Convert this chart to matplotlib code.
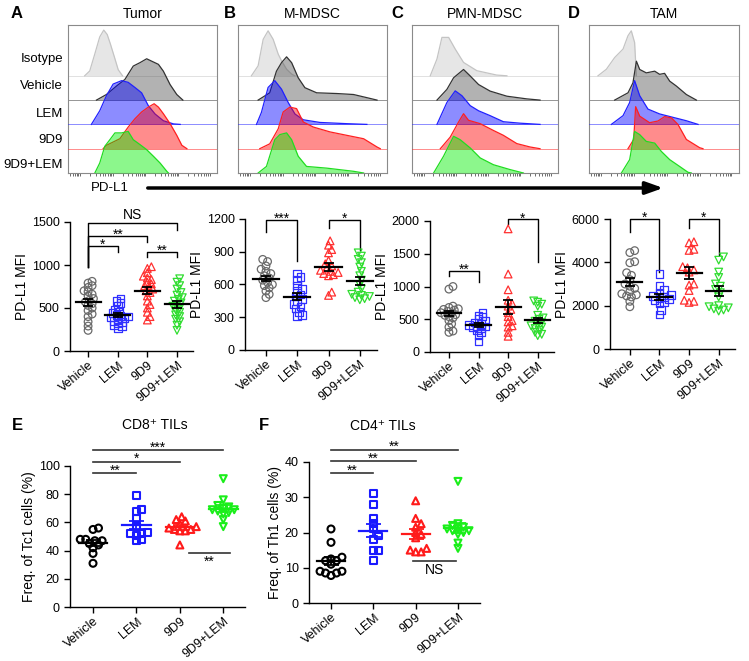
import matplotlib
matplotlib.use('Agg')
import matplotlib.pyplot as plt
import numpy as np
from matplotlib.patches import FancyArrowPatch

plt.rcParams['font.family'] = ['Liberation Sans', 'DejaVu Sans']

# ---------------- data ----------------
groups = ["Vehicle", "LEM", "9D9", "9D9+LEM"]
hist_rows = ["Isotype", "Vehicle", "LEM", "9D9", "9D9+LEM"]

# histogram outlines: x in % of the PD-L1 axis, height in row units
tumor_x = {
    "Isotype": [11.2, 14.6, 18, 21.3, 24, 26.3, 28.5, 31.5, 33.7, 36.6],
    "Vehicle": [19.1, 25.8, 32.6, 38.2, 43.8, 48.3, 52.8, 56.2, 60.7, 64, 68.5, 73, 77.1],
    "LEM": [15.7, 21.3, 25.8, 30.3, 36, 40.4, 44.9, 49.4, 53.9, 58.4, 64, 70.8, 75.3],
    "9D9": [23.6, 25.8, 34.8, 40.4, 44.9, 49.4, 53.9, 57.8, 60.7, 64, 68.5, 73, 76.4, 79.8],
    "9D9+LEM": [18, 21.3, 24.7, 28.1, 31.5, 36, 40.4, 43.8, 48.3, 52.8, 57.3, 61.8, 66.3, 67.4],
}
tumor_h = {
    "Isotype": [0, 0.2, 0.9, 1.6, 1.88, 1.7, 1.3, 0.7, 0.25, 0],
    "Vehicle": [0, 0.23, 0.58, 0.85, 1.4, 1.54, 1.7, 1.6, 1.47, 1.19, 0.64, 0.23, 0],
    "LEM": [0, 0.56, 1.18, 1.66, 1.8, 1.73, 1.52, 1.3, 0.77, 0.43, 0.15, 0.02, 0],
    "9D9": [0, 0.14, 0.41, 0.89, 1.23, 1.51, 1.71, 1.85, 1.71, 1.44, 1.03, 0.55, 0.14, 0],
    "9D9+LEM": [0, 0.41, 1.1, 1.37, 1.65, 1.65, 1.71, 1.37, 1.17, 0.96, 0.69, 0.41, 0.07, 0],
}
mmdsc_x = {
    "Isotype": [9, 13.5, 16.9, 20.2, 23.6, 27, 29.2, 32.6, 36, 38.2],
    "Vehicle": [13.5, 21.3, 25.8, 29.2, 32.6, 36, 40.4, 44.9, 52.8, 66.3, 77.5, 86.5, 93.3],
    "LEM": [12.4, 15.7, 20.2, 24.7, 29.2, 33.7, 38.2, 43.8, 55, 73, 86.5],
    "9D9": [14.6, 21.3, 27, 30.3, 34.8, 39.3, 43.8, 50.6, 61.8, 73, 84.3, 93.3, 95.5],
    "9D9+LEM": [13.5, 19.1, 24.7, 28.1, 32.6, 36, 40.4, 46, 59.6, 77.5, 84.3],
}
mmdsc_h = {
    "Isotype": [0, 0.41, 1.5, 1.85, 1.5, 0.89, 0.62, 0.27, 0.07, 0],
    "Vehicle": [0, 0.3, 1.19, 1.54, 1.78, 1.54, 0.92, 0.51, 0.3, 0.27, 0.23, 0.1, 0],
    "LEM": [0, 0.49, 1.52, 1.8, 1.45, 0.9, 0.43, 0.19, 0.08, 0.03, 0],
    "9D9": [0, 0.2, 0.82, 1.51, 1.71, 1.65, 1.1, 0.89, 0.69, 0.55, 0.41, 0.07, 0],
    "9D9+LEM": [0, 0.27, 1.37, 1.58, 1.65, 1.37, 0.69, 0.27, 0.2, 0.07, 0],
}
pmn_x = {
    "Isotype": [12.5, 17.1, 20.5, 25.1, 29.6, 35.3, 44.4, 58, 65],
    "Vehicle": [17.1, 23.9, 28.5, 35.3, 39.9, 45.6, 53.5, 65, 78.6, 87.7],
    "LEM": [17.1, 23.9, 29.6, 34.2, 39.9, 45.6, 53.5, 62.6, 74, 87.7],
    "9D9": [19.4, 26.2, 31.9, 35.3, 38.7, 46.7, 55.8, 62.6, 71.8, 80.9, 87.7],
    "9D9+LEM": [14.8, 21.6, 28.5, 33, 39.9, 46.7, 55.8, 67.2, 76.3],
}
pmn_h = {
    "Isotype": [0, 0.69, 1.58, 1.58, 1.1, 0.55, 0.21, 0.03, 0],
    "Vehicle": [0, 0.44, 0.92, 1.26, 0.99, 0.64, 0.37, 0.16, 0.05, 0],
    "LEM": [0, 0.9, 1.38, 1.18, 0.77, 0.56, 0.36, 0.11, 0.05, 0],
    "9D9": [0, 0.48, 1.1, 1.44, 1.17, 1.03, 0.75, 0.55, 0.21, 0.07, 0],
    "9D9+LEM": [0, 0.69, 1.51, 1.37, 1.03, 0.62, 0.34, 0.14, 0],
}
tam_x = {
    "Isotype": [6, 11.6, 17.1, 22.7, 26, 28.2, 30.4, 31.6],
    "Vehicle": [17.1, 26, 29.3, 31.6, 33.8, 38.2, 43.8, 47.1, 50.4, 53.8, 58.2, 64.9, 71.6],
    "LEM": [14.9, 22.7, 27.1, 30.4, 33.8, 39.3, 47.1, 56, 64.9, 72.7],
    "9D9": [26, 29.8, 31.1, 33.8, 40.4, 46, 50.4, 54.9, 59.3, 64.9, 73.8, 76],
    "9D9+LEM": [21.6, 27.1, 30.4, 33.8, 38.2, 43.8, 48.2, 53.8, 60.4, 66, 68.2],
}
tam_h = {
    "Isotype": [0, 0.27, 0.75, 1.1, 1.65, 1.85, 1.37, 0],
    "Vehicle": [0, 0.3, 0.71, 1.6, 1.26, 1.12, 1.19, 1.06, 1.1, 0.78, 0.58, 0.23, 0],
    "LEM": [0, 0.36, 0.9, 1.8, 1.18, 0.63, 0.43, 0.29, 0.15, 0],
    "9D9": [0, 0.38, 1.73, 1.34, 1.07, 1.14, 1.32, 1.27, 1.0, 0.38, 0.04, 0],
    "9D9+LEM": [0, 0.55, 1.71, 1.58, 1.3, 1.23, 0.89, 0.55, 0.27, 0.03, 0],
}

# PD-L1 MFI per mouse
mfi_tumor = {
    "Vehicle": [810, 790, 760, 740, 700, 690, 660, 640, 610, 590, 570, 550, 530, 500, 470, 430, 400, 340, 290, 240],
    "LEM": [610, 580, 560, 520, 480, 460, 440, 420, 410, 400, 390, 380, 370, 350, 340, 320, 300, 290, 270],
    "9D9": [980, 960, 910, 870, 850, 830, 800, 780, 760, 740, 720, 700, 680, 640, 580, 540, 500, 450, 400, 360],
    "9D9+LEM": [840, 800, 760, 720, 680, 650, 620, 600, 580, 560, 540, 520, 500, 480, 450, 420, 400, 370, 340, 300, 240],
}
mfi_mmdsc = {
    "Vehicle": [830, 810, 770, 740, 720, 700, 680, 660, 640, 620, 600, 590, 570, 540, 510, 480],
    "LEM": [700, 670, 640, 590, 560, 540, 510, 490, 470, 450, 420, 400, 380, 350, 320, 310],
    "9D9": [1000, 960, 920, 890, 820, 790, 770, 750, 730, 720, 710, 700, 690, 680, 530, 500],
    "9D9+LEM": [890, 860, 830, 800, 760, 720, 680, 640, 600, 560, 530, 510, 500, 490, 480, 470, 460],
}
mfi_pmn = {
    "Vehicle": [1000, 960, 700, 680, 660, 650, 640, 620, 600, 590, 570, 560, 540, 520, 480, 430, 380, 320, 300],
    "LEM": [600, 560, 540, 500, 470, 450, 430, 410, 400, 390, 380, 360, 340, 300, 250, 160],
    "9D9": [1880, 1190, 950, 790, 740, 700, 650, 600, 540, 480, 460, 400, 380, 300, 240],
    "9D9+LEM": [780, 760, 730, 700, 560, 520, 500, 470, 450, 420, 400, 380, 360, 330, 300, 270, 250],
}
mfi_tam = {
    "Vehicle": [4540, 4450, 4030, 3980, 3520, 3400, 3200, 3000, 2900, 2800, 2650, 2550, 2500, 2450, 2400, 2200, 1950],
    "LEM": [3450, 2900, 2750, 2600, 2500, 2450, 2400, 2350, 2300, 2250, 2150, 2100, 1800, 1600],
    "9D9": [4950, 4900, 4600, 4550, 3800, 3750, 3650, 3550, 3000, 2950, 2700, 2250, 2200, 2150],
    "9D9+LEM": [4250, 4100, 3550, 3300, 3000, 2900, 2750, 2600, 2400, 2000, 1950, 1900, 1850, 1800, 1750],
}
tc1 = {
    "Vehicle": [56, 55, 48, 48, 47, 47, 45, 44, 42, 38, 31],
    "LEM": [79, 69, 68, 63, 57, 53, 52, 52, 51, 48, 47],
    "9D9": [64, 62, 61, 59, 57, 56, 55, 55, 54, 54, 44],
    "9D9+LEM": [91, 76, 72, 71, 70, 69, 69, 68, 67, 66, 62, 57],
}
th1 = {
    "Vehicle": [21, 17.2, 13, 12.5, 12, 12, 11, 9, 9, 8.5, 8.5, 7.8],
    "LEM": [31, 28, 24, 22.5, 21, 19, 18, 15, 15, 12],
    "9D9": [29, 24, 22.5, 21.5, 20, 19.5, 18.5, 15.5, 15, 14.5, 14.5],
    "9D9+LEM": [34.5, 22.5, 22, 21.5, 21, 21, 20.5, 20.5, 20, 19.5, 17, 15.5],
}

# ---------------- figure ----------------
W, H = 749, 661
fig = plt.figure(figsize=(W / 100, H / 100), dpi=100)


def px_axes(l, t, r, b):
    return fig.add_axes([l / W, 1 - b / H, (r - l) / W, (b - t) / H])


def ftext(x, y, s, **kw):
    fig.text(x / W, 1 - y / H, s, **kw)


# histograms
fills = ['#c8c8c8', '#555555', '#0000ff', '#ff0000', '#00ee00']
edges = ['#c4c4c4', '#333333', '#2020ff', '#ff2020', '#20dd20']
hist_data = [(tumor_x, tumor_h), (mmdsc_x, mmdsc_h), (pmn_x, pmn_h), (tam_x, tam_h)]
hist_boxes = [(68, 25, 217, 173), (238, 25, 387, 173), (412, 25, 558, 173), (589, 25, 739, 173)]
hist_titles = ["Tumor", "M-MDSC", "PMN-MDSC", "TAM"]
letters_top = [("A", 17), ("B", 230), ("C", 397), ("D", 574)]

minor = []
for start in [-14, 8, 30, 52, 74]:
    minor += list(start + 22 * np.log10(np.arange(1, 10)))
minor = [m for m in minor if 0 < m < 100]

for (hx, hh), box, title in zip(hist_data, hist_boxes, hist_titles):
    ax = px_axes(*box)
    ax.set_xlim(0, 100)
    ax.set_ylim(0, 6.09)
    for i, row in enumerate(hist_rows):
        base = 4 - i
        x = np.array(hx[row])
        h = np.array(hh[row])
        ax.axhline(base, color=edges[i], lw=0.6, alpha=0.6, zorder=2 * i)
        ax.fill_between(x, base, base + h, color=fills[i], alpha=0.45, lw=0, zorder=2 * i + 1)
        ax.plot(x, base + h, color=edges[i], lw=0.9, zorder=2 * i + 1.5)
    ax.set_yticks([])
    ax.set_xticks([])
    ax.set_xticks(minor, minor=True)
    ax.tick_params(which='minor', length=2, width=0.5, color='#333333')
    for s in ax.spines.values():
        s.set_color('#8a8a8a')
        s.set_linewidth(0.8)
    ax.set_title(title, fontsize=10, pad=5)

for letter, x in letters_top:
    ftext(x, 13, letter, fontsize=12, fontweight='bold', ha='center', va='center')

for lab, y in zip(hist_rows, [59, 86, 114, 140, 165]):
    ftext(63, y, lab, fontsize=9.5, ha='right', va='center')

ftext(110, 188, "PD-L1", fontsize=9.5, ha='center', va='center')
arrow = FancyArrowPatch((145 / W, 1 - 188 / H), (666 / W, 1 - 188 / H), transform=fig.transFigure,
                        arrowstyle='-|>,head_length=0.7,head_width=0.25', mutation_scale=15,
                        lw=2.5, color='black')
fig.add_artist(arrow)


# scatter panels
def swarm(vals, y_scale, diam, step):
    ys = np.asarray(vals, float) * y_scale
    xs = np.zeros(len(ys))
    done = []
    for i in np.argsort(ys):
        k = 0
        pos = None
        while pos is None:
            for c in ([0.0] if k == 0 else [k * step, -k * step]):
                if all((c - xs[j]) ** 2 + (ys[i] - ys[j]) ** 2 >= diam ** 2 for j in done):
                    pos = c
                    break
            k += 1
        xs[i] = pos
        done.append(i)
    return xs


markers = ['o', 's', '^', 'v']


def scatter_panel(box, data, xlim, ylim, yticks, ylabel, colors, mean_colors,
                  ms, mew, half, cap, spread):
    ax = px_axes(*box)
    ax.set_xlim(*xlim)
    ax.set_ylim(*ylim)
    w_px = box[2] - box[0]
    h_px = box[3] - box[1]
    px_cat = w_px / (xlim[1] - xlim[0])
    y_scale = h_px / (ylim[1] - ylim[0])
    diam = ms * 100 / 72 * spread
    for i, g in enumerate(groups):
        vals = np.array(data[g], float)
        off = swarm(vals, y_scale, diam, diam * 0.35) / px_cat
        ax.scatter(i + off, vals, marker=markers[i], s=ms ** 2, facecolors='none',
                   edgecolors=colors[i], linewidths=mew, clip_on=False, zorder=3)
        m = vals.mean()
        sem = vals.std(ddof=1) / np.sqrt(len(vals))
        ax.plot([i - half, i + half], [m, m], color=mean_colors[i], lw=1.6, zorder=4)
        ax.errorbar(i, m, yerr=sem, color=mean_colors[i], capsize=cap, elinewidth=1.3,
                    capthick=1.3, zorder=4)
    ax.set_yticks(yticks)
    ax.set_xticks(range(4))
    ax.set_xticklabels(groups, rotation=40, ha='right', rotation_mode='anchor')
    ax.tick_params(labelsize=9, length=4, width=1)
    ax.tick_params(axis='x', pad=2)
    ax.spines['top'].set_visible(False)
    ax.spines['right'].set_visible(False)
    for s in ['left', 'bottom']:
        ax.spines[s].set_linewidth(1)
    ax.set_ylabel(ylabel, fontsize=10, labelpad=2)
    return ax


def bracket(ax, x1, x2, y, y1, y2, label):
    ax.plot([x1, x1, x2, x2], [y1, y, y, y2], color='black', lw=1, clip_on=False)
    dy = 2.4 if label == 'NS' else -2.2
    ax.annotate(label, ((x1 + x2) / 2, y), xytext=(0, dy), textcoords='offset points',
                ha='center', va='baseline', fontsize=10, annotation_clip=False)


def hline(ax, x1, x2, y, label, below=False):
    ax.plot([x1, x2], [y, y], color='#333333', lw=1.2, clip_on=False)
    dy = -9.6 if below else -1.0
    ax.annotate(label, ((x1 + x2) / 2, y), xytext=(0, dy), textcoords='offset points',
                ha='center', va='baseline', fontsize=10, annotation_clip=False)


ad_colors = ['#6a6a6a', '#3030ff', '#ff3030', '#30dd30']
ad_means = ['black'] * 4

axA = scatter_panel((70, 222, 193, 351), mfi_tumor, (-0.61, 3.54), (0, 1500),
                    [0, 500, 1000, 1500], 'PD-L1 MFI', ad_colors, ad_means, 5.5, 0.9, 0.42, 3.8, 0.5)
bracket(axA, 0, 3, 1492, 980, 1407, 'NS')
bracket(axA, 0, 2, 1341, 980, 1271, '**')
bracket(axA, 0, 1, 1225, 980, 1155, '*')
bracket(axA, 2, 3, 1155, 1089, 1089, '**')

axB = scatter_panel((245, 219, 377, 350), mfi_mmdsc, (-0.67, 3.55), (0, 1200),
                    [0, 300, 600, 900, 1200], 'PD-L1 MFI', ad_colors, ad_means, 5.5, 0.9, 0.42, 3.8, 0.6)
bracket(axB, 0, 1, 1194, 1078, 811, '***')
bracket(axB, 2, 3, 1194, 1117, 918, '*')

axC = scatter_panel((430, 221, 554, 352), mfi_pmn, (-0.64, 3.55), (0, 2000),
                    [0, 500, 1000, 1500, 2000], 'PD-L1 MFI', ad_colors, ad_means, 5.5, 0.9, 0.42, 3.8, 0.5)
bracket(axC, 0, 1, 1240, 1158, 1071, '**')
bracket(axC, 2, 3, 2025, 1954, 1378, '*')

axD = scatter_panel((610, 219, 735, 349), mfi_tam, (-0.67, 3.55), (0, 6000),
                    [0, 2000, 4000, 6000], 'PD-L1 MFI', ad_colors, ad_means, 5.5, 0.9, 0.42, 3.8, 0.6)
bracket(axD, 0, 1, 6000, 5415, 3569, '*')
bracket(axD, 2, 3, 6000, 5569, 4338, '*')

ef_colors = ['black', '#1a1aff', '#ff1a1a', '#1aee1a']

axE = scatter_panel((70, 466, 245, 607), tc1, (-0.53, 3.5), (0, 100),
                    [0, 20, 40, 60, 80, 100], 'Freq. of Tc1 cells (%)', ef_colors, ef_colors,
                    5.0, 1.5, 0.33, 5.4, 0.75)
hline(axE, 0, 3, 111.4, '***')
hline(axE, 0, 2, 103, '*')
hline(axE, 0, 1, 94.8, '**')
hline(axE, 2.2, 3.16, 38.4, '**', below=True)

axF = scatter_panel((309, 462, 480, 603), th1, (-0.52, 3.52), (0, 40),
                    [0, 10, 20, 30, 40], 'Freq. of Th1 cells (%)', ef_colors, ef_colors,
                    5.0, 1.5, 0.33, 5.4, 0.75)
hline(axF, 0, 3, 43.5, '**')
hline(axF, 0, 2, 40.2, '**')
hline(axF, 0, 1, 36.9, '**')
hline(axF, 1.94, 2.96, 12, 'NS', below=True)

ftext(155, 425, 'CD8\u207a TILs', fontsize=10, ha='center', va='center')
ftext(383, 426, 'CD4\u207a TILs', fontsize=10, ha='center', va='center')
ftext(17, 425, 'E', fontsize=12, fontweight='bold', ha='center', va='center')
ftext(264, 425, 'F', fontsize=12, fontweight='bold', ha='center', va='center')

fig.savefig('out.png', dpi=100)
